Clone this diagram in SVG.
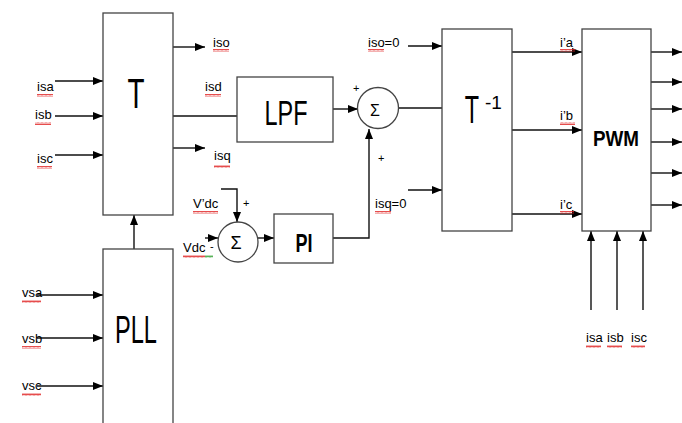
<svg xmlns="http://www.w3.org/2000/svg" width="682" height="423" viewBox="0 0 682 423">
<style>
.box{fill:#fff;stroke:#444;stroke-width:1.3}
.ln{fill:none;stroke:#111;stroke-width:1.4}
.ar{fill:none;stroke:#111;stroke-width:1.4;marker-end:url(#ah)}
.lb{font-family:"Liberation Sans",Arial,sans-serif;font-size:13px;fill:#000}
.pm{font-family:"Liberation Sans",Arial,sans-serif;font-size:11px;fill:#000}
.big{font-family:"Liberation Sans",Arial,sans-serif;fill:#000}
.sq{fill:url(#sq)}
.sqg{fill:url(#sqg)}
</style>
<defs>
<marker id="ah" viewBox="0 0 10 10" refX="10" refY="5" markerWidth="10" markerHeight="10" markerUnits="userSpaceOnUse" orient="auto">
<path d="M0,1 L10,5 L0,9 z" fill="#000"/>
</marker>
<pattern id="sq" width="4" height="3" patternUnits="userSpaceOnUse">
<path d="M0,2.5 L1,0.5 L2,2.5 L3,0.5 L4,2.5" stroke="#e02020" fill="none" stroke-width="0.8"/>
</pattern>
<pattern id="sqg" width="4" height="3" patternUnits="userSpaceOnUse">
<path d="M0,2.5 L1,0.5 L2,2.5 L3,0.5 L4,2.5" stroke="#30a030" fill="none" stroke-width="0.8"/>
</pattern>
</defs>
<rect width="682" height="423" fill="#fff"/>

<g id="connectors">
<line class="ar" x1="55" y1="81" x2="103" y2="81"/>
<line class="ar" x1="55" y1="116" x2="103" y2="116"/>
<line class="ar" x1="55" y1="155" x2="103" y2="155"/>
<line class="ar" x1="173" y1="47" x2="205" y2="47"/>
<line class="ln" x1="173" y1="116" x2="237" y2="116"/>
<line class="ar" x1="173" y1="148" x2="205" y2="148"/>
<line class="ar" x1="134" y1="249" x2="134" y2="215"/>
<line class="ar" x1="37" y1="295" x2="103" y2="295"/>
<line class="ar" x1="37" y1="338" x2="103" y2="338"/>
<line class="ar" x1="37" y1="386" x2="103" y2="386"/>
<line class="ar" x1="333" y1="109" x2="358" y2="109"/>
<polyline class="ar" points="333,238 369,238 369,129"/>
<line class="ln" x1="398" y1="108" x2="442" y2="108"/>
<polyline class="ar" points="221,189 237,189 237,222"/>
<line class="ar" x1="205" y1="238" x2="218" y2="238"/>
<line class="ar" x1="258" y1="238" x2="274" y2="238"/>
<line class="ar" x1="408" y1="46" x2="442" y2="46"/>
<line class="ar" x1="408" y1="190" x2="442" y2="190"/>
<line class="ar" x1="512" y1="52" x2="582" y2="52"/>
<line class="ar" x1="512" y1="130" x2="582" y2="130"/>
<line class="ar" x1="512" y1="214" x2="582" y2="214"/>
<line class="ar" x1="651" y1="52" x2="682" y2="52"/>
<line class="ar" x1="651" y1="82" x2="682" y2="82"/>
<line class="ar" x1="651" y1="109" x2="682" y2="109"/>
<line class="ar" x1="651" y1="142" x2="682" y2="142"/>
<line class="ar" x1="651" y1="173" x2="682" y2="173"/>
<line class="ar" x1="651" y1="205" x2="682" y2="205"/>
<line class="ar" x1="591" y1="310" x2="591" y2="231"/>
<line class="ar" x1="617" y1="310" x2="617" y2="231"/>
<line class="ar" x1="643" y1="310" x2="643" y2="231"/>
</g>

<g id="T">
<rect class="box" x="103" y="13" width="70" height="202"/>
<text class="big" x="136" y="108" font-size="42" text-anchor="middle" textLength="17" lengthAdjust="spacingAndGlyphs">T</text>
</g>
<g id="PLL">
<rect class="box" x="103" y="249" width="70" height="180"/>
<text class="big" x="136" y="343" font-size="39" text-anchor="middle" textLength="42" lengthAdjust="spacingAndGlyphs">PLL</text>
</g>
<g id="LPF">
<rect class="box" x="237" y="77" width="96" height="65"/>
<text class="big" x="286" y="125" font-size="35" text-anchor="middle" textLength="43" lengthAdjust="spacingAndGlyphs">LPF</text>
</g>
<g id="SUM1">
<circle class="box" cx="378" cy="108" r="20.5"/>
<text class="big" x="375" y="116" font-size="16" text-anchor="middle">Σ</text>
</g>
<g id="SUM2">
<circle class="box" cx="238" cy="242" r="20"/>
<text class="big" x="236" y="249" font-size="18" text-anchor="middle">Σ</text>
</g>
<g id="PI">
<rect class="box" x="274" y="214" width="59" height="49"/>
<text class="big" x="304" y="252" font-size="26" font-weight="bold" text-anchor="middle" textLength="17" lengthAdjust="spacingAndGlyphs">PI</text>
</g>
<g id="TINV">
<rect class="box" x="442" y="29" width="70" height="202"/>
<text class="big" transform="translate(472,123) scale(0.6,1)" font-size="39" text-anchor="middle">T</text>
<text class="big" x="485" y="109" font-size="19">-1</text>
</g>
<g id="PWM">
<rect class="box" x="582" y="29" width="69" height="202"/>
<text class="big" x="616" y="146" font-size="22" font-weight="bold" text-anchor="middle" textLength="46" lengthAdjust="spacingAndGlyphs">PWM</text>
</g>

<g id="labels">
<text class="lb" x="37" y="91">isa</text><rect class="sq" x="37" y="94" width="16" height="3"/>
<text class="lb" x="35" y="119">isb</text><rect class="sq" x="35" y="122" width="16" height="3"/>
<text class="lb" x="37" y="163">isc</text><rect class="sq" x="37" y="166" width="15" height="3"/>
<text class="lb" x="213" y="47">iso</text><rect class="sq" x="213" y="49" width="16" height="3"/>
<text class="lb" x="205" y="91">isd</text><rect class="sq" x="205" y="94" width="16" height="3"/>
<text class="lb" x="214" y="160">isq</text><rect class="sq" x="214" y="165" width="16" height="3"/>
<text class="lb" x="193" y="208">V’dc</text><rect class="sq" x="193" y="211" width="25" height="3"/>
<text class="pm" x="243" y="207">+</text>
<text class="lb" x="183" y="252">Vdc</text><rect class="sq" x="183" y="255" width="22" height="3"/><rect class="sqg" x="205" y="255" width="8" height="3"/>
<text class="pm" x="210" y="250">-</text>
<text class="pm" x="353" y="92">+</text>
<text class="pm" x="378" y="162">+</text>
<text class="lb" x="368" y="47">iso=0</text><rect class="sq" x="368" y="49" width="16" height="3"/>
<text class="lb" x="375" y="208">isq=0</text><rect class="sq" x="375" y="211" width="16" height="3"/>
<text class="lb" x="560" y="47">i’a</text><rect class="sq" x="560" y="49" width="15" height="3"/>
<text class="lb" x="560" y="120">i’b</text><rect class="sq" x="560" y="122" width="15" height="3"/>
<text class="lb" x="560" y="209">i’c</text><rect class="sq" x="560" y="211" width="14" height="3"/>
<text class="lb" x="22" y="297">vsa</text><rect class="sq" x="22" y="300" width="19" height="3"/>
<text class="lb" x="22" y="343">vsb</text><rect class="sq" x="22" y="346" width="19" height="3"/>
<text class="lb" x="22" y="390">vsc</text><rect class="sq" x="22" y="393" width="19" height="3"/>
<text class="lb" x="586" y="342">isa</text><rect class="sq" x="586" y="345" width="15" height="3"/>
<text class="lb" x="607" y="342">isb</text><rect class="sq" x="607" y="345" width="15" height="3"/>
<text class="lb" x="631" y="342">isc</text><rect class="sq" x="631" y="345" width="14" height="3"/>
</g>
</svg>
